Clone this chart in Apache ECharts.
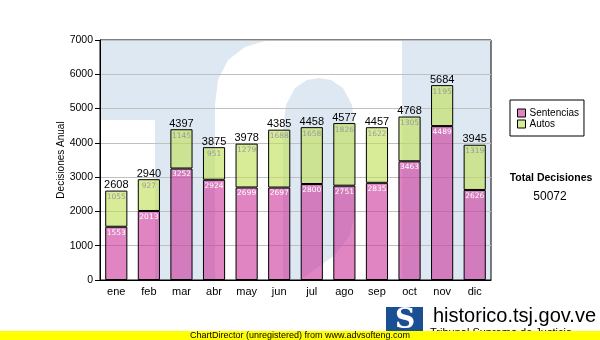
<!DOCTYPE html>
<html>
<head>
<meta charset="utf-8">
<script src="https://cdn.jsdelivr.net/npm/echarts@6/dist/echarts.min.js"></script>
<style>html,body{margin:0;padding:0;background:#fff;}#c{width:600px;height:340px;}</style>
</head>
<body>
<div id="c"></div>
<script>
const categories = ['ene','feb','mar','abr','may','jun','jul','ago','sep','oct','nov','dic'];
const sentencias = [1553,2013,3252,2924,2699,2697,2800,2751,2835,3463,4489,2626];
const autos = [1055,927,1145,951,1279,1688,1658,1826,1622,1305,1195,1319];
const totals = [2608,2940,4397,3875,3978,4385,4458,4577,4457,4768,5684,3945];
const yMin = 0, yMax = 7000, yInterval = 1000;
const grandTotal = 50072;
const seriesNames = ['Sentencias','Autos'];
const yName = 'Decisiones Anual';

const F = 'Liberation Sans, Arial, sans-serif';
const chart = echarts.init(document.getElementById('c'), null, {renderer:'canvas'});
const wm = -10;
chart.setOption({
  animation:false,
  backgroundColor:'#fff',
  grid:{left:100, top:40, width:391, height:240, show:true, borderColor:'#000', borderWidth:1, backgroundColor:'transparent'},
  legend:{
    orient:'vertical', left:510, top:100, icon:'rect',
    data:[{name:seriesNames[0], itemStyle:{color:'#e085c2'}},{name:seriesNames[1], itemStyle:{color:'#d8ec98'}}],
    itemWidth:8, itemHeight:8, itemGap:1,
    itemStyle:{borderColor:'#000', borderWidth:1, opacity:1},
    padding:[8,5,7,7], borderColor:'#000', borderWidth:1, backgroundColor:'#fff',
    textStyle:{fontFamily:F, fontSize:10, color:'#000', padding:[0,0,0,-1]}
  },
  xAxis:{
    type:'category', data:categories,
    axisLine:{lineStyle:{color:'#000'}},
    axisTick:{alignWithLabel:true, length:4, lineStyle:{color:'#000'}},
    axisLabel:{fontFamily:F, fontSize:11, color:'#000', margin:6}
  },
  yAxis:{
    type:'value', min:yMin, max:yMax, interval:yInterval,
    axisLine:{show:true, lineStyle:{color:'#000'}},
    axisTick:{show:true, length:5, lineStyle:{color:'#000'}},
    axisLabel:{fontFamily:F, fontSize:10.5, color:'#000', margin:7, formatter:(v)=>String(v)},
    splitLine:{lineStyle:{color:'#c0c0c0'}}
  },
  series:[
    {name:seriesNames[0], type:'bar', stack:'t', data:sentencias, barWidth:'68%',
     itemStyle:{color:'rgba(204,51,153,0.6)', borderColor:'#000', borderWidth:1},
     label:{show:true, position:'insideTop', distance:2, color:'#fff', fontFamily:'DejaVu Sans', fontSize:7.5}},
    {name:seriesNames[1], type:'bar', stack:'t', data:autos, barWidth:'68%',
     itemStyle:{color:'rgba(190,223,83,0.6)', borderColor:'#000', borderWidth:1},
     label:{show:true, position:'insideTop', distance:2.5, color:'#9a9a9a', fontFamily:'DejaVu Sans', fontSize:7.5}},
    {name:'Total', type:'bar', stack:'t', data:totals.map(()=>0), barWidth:'68%',
     itemStyle:{color:'transparent', borderWidth:0},
     label:{show:true, position:'top', distance:0, color:'#000', fontFamily:F, fontSize:11,
       formatter:(p)=>String(totals[p.dataIndex])}}
  ],
  graphic:[
    {type:'rect', z:wm, z2:0, silent:true, shape:{x:100,y:40,width:391,height:240}, style:{fill:'#dee8f2'}},
    {type:'rect', z:wm, z2:1, silent:true, shape:{x:100,y:120,width:55,height:160}, style:{fill:'#ffffff'}},
    {type:'polygon', z:wm, z2:2, silent:true, shape:{points:[[215,280],[215,105],[218,80],[228,60],[245,47],[265,41],[290,40],[402,40],[402,280]]}, style:{fill:'#ffffff'}},
    {type:'polygon', z:wm, z2:3, silent:true, shape:{points:[[283,280],[283,130],[286,105],[295,88],[307,80],[319,78],[331,80],[343,88],[352,105],[355,130],[355,215],[350,235],[335,255],[300,280]]}, style:{fill:'#dee8f2'}},
    {type:'text', x:61, y:160, rotation:Math.PI/2, style:{text:yName, font:'10px '+F, fill:'#000', textAlign:'center', textVerticalAlign:'middle'}},
    {type:'text', x:551, y:178, style:{text:'Total Decisiones', font:'bold 10.5px '+F, fill:'#000', textAlign:'center', textVerticalAlign:'middle'}},
    {type:'text', x:550, y:197, style:{text:String(grandTotal), font:'12px '+F, fill:'#000', textAlign:'center', textVerticalAlign:'middle'}},
    {type:'rect', shape:{x:386,y:307,width:37,height:24}, style:{fill:'#1b4f94'}},
    {type:'text', x:405, y:321, style:{text:'S', font:'900 28px DejaVu Serif', fill:'#fff', textAlign:'center', textVerticalAlign:'middle'}},
    {type:'text', x:433, y:316, style:{text:'historico.tsj.gov.ve', font:'20px '+F, fill:'#000', textAlign:'left', textVerticalAlign:'middle'}},
    {type:'text', x:430, y:333, style:{text:'Tribunal Supremo de Justicia', font:'11px '+F, fill:'#000', textAlign:'left', textVerticalAlign:'middle'}},
    {type:'rect', z:50, shape:{x:0,y:331,width:600,height:9}, style:{fill:'#ffff00'}},
    {type:'text', z:51, x:300, y:335.5, style:{text:'ChartDirector (unregistered) from www.advsofteng.com', font:'9px '+F, fill:'#000', textAlign:'center', textVerticalAlign:'middle'}}
  ]
});
</script>
</body>
</html>
